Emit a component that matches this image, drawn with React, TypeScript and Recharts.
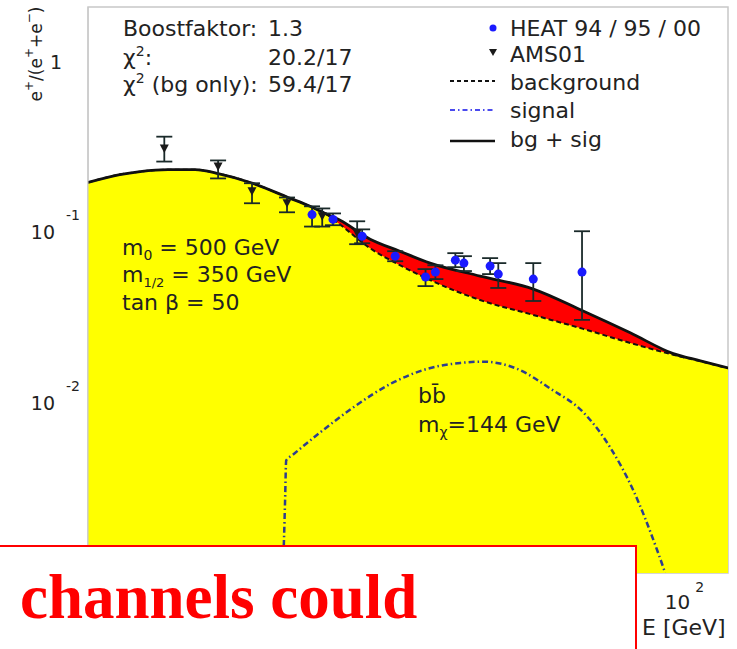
import React from 'react';
import { ComposedChart, Area, Line, Scatter, XAxis, YAxis, ErrorBar, ReferenceArea } from 'recharts';

// ---- curves (E in GeV, positron fraction) ----
const curveE = [1.0, 1.28, 1.5, 1.86, 2.3, 2.75, 3.53, 4.74, 5.62, 6.32, 7.1, 8.97, 11.3, 14.3, 21.1, 31.9, 47.0, 67.8, 94.7, 117, 145];
const bgPlusSig = [0.196, 0.218, 0.227, 0.233, 0.233, 0.221, 0.196, 0.16, 0.142, 0.129, 0.1175, 0.091, 0.0774, 0.0659, 0.0553, 0.0464, 0.0345, 0.0257, 0.0194, 0.0176, 0.016];
const background = [0.196, 0.218, 0.227, 0.233, 0.233, 0.221, 0.196, 0.16, 0.142, 0.129, 0.111, 0.0806, 0.0641, 0.0524, 0.04, 0.0327, 0.0271, 0.0224, 0.0191, 0.0175, 0.0159];

const signalE = [4.55, 4.59, 4.63, 4.67, 4.89, 6.08, 7.85, 10.7, 14.0, 18.1, 21.6, 28.1, 36.4, 47.5, 58.0, 69.4, 83.6, 89.0];
const signal = [0.001, 0.00156, 0.00267, 0.00458, 0.0049, 0.00668, 0.00935, 0.0131, 0.0158, 0.0171, 0.0174, 0.0158, 0.0121, 0.00863, 0.00546, 0.00306, 0.00136, 0.001];

// ---- measurements ----
const heatE = [5.71, 6.72, 8.43, 10.9, 13.8, 14.9, 17.4, 18.6, 22.8, 24.3, 31.9, 46.6];
const heatV = [0.127, 0.119, 0.0948, 0.0724, 0.0546, 0.0584, 0.0686, 0.0659, 0.0633, 0.0568, 0.0531, 0.0584];
const heatLo = [0.108, 0.11, 0.0862, 0.0676, 0.0483, 0.0531, 0.0624, 0.0592, 0.0568, 0.0471, 0.0395, 0.0306];
const heatHi = [0.142, 0.129, 0.104, 0.0774, 0.0608, 0.064, 0.0754, 0.0724, 0.0705, 0.0659, 0.0659, 0.1014];

const amsE = [1.81, 2.75, 3.58, 4.7, 6.18, 8.11];
const amsV = [0.31, 0.243, 0.174, 0.148, 0.124, 0.0986];
const amsLo = [0.26, 0.207, 0.148, 0.131, 0.108, 0.0851];
const amsHi = [0.364, 0.264, 0.194, 0.16, 0.138, 0.116];

// ---- axes ----
const xTicks = [1, 10, 100];
const xTickLabelsShown = [100]; // 1 and 10 are hidden behind the slide box in the reference
const yTicks = [0.01, 0.1, 1];
const yMinorTicks = [0.3, 0.4, 0.5, 0.6, 0.7, 0.8, 0.9, 2];
const xDomain = [1, 145];
const yDomain = [0.001, 2.1];

type Row = { E: number; total?: number; bg?: number; sig?: number };
const rowMap = new Map<number, Row>();
curveE.forEach((E, i) => {
  rowMap.set(E, { ...(rowMap.get(E) || { E }), total: bgPlusSig[i], bg: background[i] });
});
signalE.forEach((E, i) => {
  rowMap.set(E, { ...(rowMap.get(E) || { E }), sig: signal[i] });
});
const curveRows = Array.from(rowMap.values()).sort((a, b) => a.E - b.E);

const heatRows = heatE.map((E, i) => ({ E, v: heatV[i], err: [heatV[i] - heatLo[i], heatHi[i] - heatV[i]] }));
const amsRows = amsE.map((E, i) => ({ E, v: amsV[i], err: [amsV[i] - amsLo[i], amsHi[i] - amsV[i]] }));

const FONT = '"DejaVu Sans", sans-serif';
const TXT = '#222';

const YTick = (props: any) => {
  const { x, y, payload } = props;
  const v = payload.value;
  if (v === 1) {
    return (
      <text x={x - 18} y={y + 7} textAnchor="end" fontFamily={FONT} fontSize={19} fill={TXT}>1</text>
    );
  }
  const exp = Math.round(Math.log10(v));
  return (
    <g>
      <text x={x - 25} y={y + 7} textAnchor="end" fontFamily={FONT} fontSize={19} fill={TXT}>10</text>
      <text x={x - 14} y={y - 12} textAnchor="start" fontFamily={FONT} fontSize={14} fill={TXT}>{String(exp)}</text>
    </g>
  );
};

const XTick = (props: any) => {
  const { x, y, payload } = props;
  const v = payload.value;
  if (!xTickLabelsShown.includes(v)) return <g />;
  const exp = Math.round(Math.log10(v));
  return (
    <g>
      <text x={x + 10} y={y + 28} textAnchor="end" fontFamily={FONT} fontSize={20} fill={TXT}>10</text>
      <text x={x + 15} y={y + 11} textAnchor="start" fontFamily={FONT} fontSize={14} fill={TXT}>{String(exp)}</text>
    </g>
  );
};

const Circle = (props: any) => {
  const { cx, cy } = props;
  if (cx == null || cy == null) return null;
  return <circle cx={cx} cy={cy} r={4.5} fill="#1a1aff" />;
};

const Tri = (props: any) => {
  const { cx, cy } = props;
  if (cx == null || cy == null) return null;
  return <path d={`M${cx - 4.5},${cy - 4} L${cx + 4.5},${cy - 4} L${cx},${cy + 4.5} Z`} fill="#1a1a1a" />;
};

export default function App() {
  return (
    <div style={{ position: 'absolute', left: 0, top: 0, width: 737, height: 649, overflow: 'hidden', background: '#fff' }}>
      <ComposedChart width={737} height={649} data={curveRows} margin={{ top: 7, right: 9, bottom: 36, left: 28 }}>
        <XAxis
          dataKey="E"
          type="number"
          scale="log"
          domain={xDomain}
          allowDataOverflow
          ticks={xTicks}
          tick={<XTick />}
          tickLine={false}
          axisLine={false}
          tickSize={6}
          tickMargin={2}
          height={40}
        />
        <YAxis
          type="number"
          scale="log"
          domain={yDomain}
          allowDataOverflow
          ticks={yTicks}
          tick={<YTick />}
          tickLine={false}
          axisLine={{ stroke: '#c8c8c8' }}
          tickSize={6}
          tickMargin={2}
          width={60}
        />
        <YAxis
          yAxisId="minor"
          mirror
          type="number"
          scale="log"
          domain={yDomain}
          allowDataOverflow
          ticks={yMinorTicks}
          tick={false}
          tickLine={{ stroke: '#b0b0b0' }}
          tickSize={5}
          axisLine={false}
        />
        <YAxis
          yAxisId="major"
          mirror
          type="number"
          scale="log"
          domain={yDomain}
          allowDataOverflow
          ticks={[1]}
          tick={false}
          tickLine={{ stroke: '#a0a0a0' }}
          tickSize={10}
          axisLine={false}
        />
        <ReferenceArea x1={xDomain[0]} x2={xDomain[1]} y1={yDomain[0]} y2={yDomain[1]} fill="none" stroke="#c8c8c8" strokeWidth={1.5} />
        <Area dataKey="total" type="monotone" fill="#ff0000" fillOpacity={1} stroke="none" baseValue={0.001} connectNulls isAnimationActive={false} />
        <Area dataKey="bg" type="monotone" fill="#ffff00" fillOpacity={1} stroke="none" baseValue={0.001} connectNulls isAnimationActive={false} />
        <Line dataKey="sig" type="monotone" stroke="#2e3e8e" strokeWidth={2.5} strokeDasharray="6 3 1.5 3" dot={false} connectNulls isAnimationActive={false} />
        <Line dataKey="bg" type="monotone" stroke="#111" strokeWidth={2} strokeDasharray="5 3" dot={false} connectNulls isAnimationActive={false} />
        <Line dataKey="total" type="monotone" stroke="#111" strokeWidth={2.8} dot={false} connectNulls isAnimationActive={false} />
        <Scatter data={amsRows} dataKey="v" shape={<Tri />} isAnimationActive={false}>
          <ErrorBar dataKey="err" direction="y" width={8} stroke="#1a2a2a" strokeWidth={1.8} />
        </Scatter>
        <Scatter data={heatRows} dataKey="v" shape={<Circle />} isAnimationActive={false}>
          <ErrorBar dataKey="err" direction="y" width={8} stroke="#1a2a2a" strokeWidth={1.8} />
        </Scatter>
      </ComposedChart>

      <svg width={737} height={649} style={{ position: 'absolute', left: 0, top: 0, pointerEvents: 'none' }}>
        <g fontFamily={FONT} fontSize={22} fill={TXT}>
          {/* y axis title */}
          <text transform="translate(36,54) rotate(-90)" textAnchor="middle" dominantBaseline="central" fontSize={17}>
            e<tspan dy={-7} fontSize={12}>+</tspan>
            <tspan dy={7}>/(e</tspan>
            <tspan dy={-7} fontSize={12}>+</tspan>
            <tspan dy={7}>+e</tspan>
            <tspan dy={-7} fontSize={12}>−</tspan>
            <tspan dy={7}>)</tspan>
          </text>

          {/* fit statistics */}
          <text x={123} y={36}>Boostfaktor:</text>
          <text x={268} y={36}>1.3</text>
          <text x={123} y={65}>χ<tspan dy={-9} fontSize={14}>2</tspan><tspan dy={9}>:</tspan></text>
          <text x={268} y={65}>20.2/17</text>
          <text x={123} y={92}>χ<tspan dy={-9} fontSize={14}>2</tspan><tspan dy={9}> (bg only):</tspan></text>
          <text x={268} y={92}>59.4/17</text>

          {/* legend */}
          <circle cx={493} cy={28} r={3.5} fill="#1a1aff" />
          <text x={510} y={36}>HEAT 94 / 95 / 00</text>
          <path d="M489,49 L497,49 L493,56 Z" fill="#1a1a1a" />
          <text x={510} y={62}>AMS01</text>
          <line x1={450} y1={81} x2={495} y2={81} stroke="#111" strokeWidth={2} strokeDasharray="4 3" />
          <text x={510} y={90}>background</text>
          <line x1={450} y1={110} x2={495} y2={110} stroke="#4a4aee" strokeWidth={2} strokeDasharray="5 3 1.5 3" />
          <text x={510} y={118}>signal</text>
          <line x1={450} y1={141} x2={495} y2={141} stroke="#111" strokeWidth={2.5} />
          <text x={510} y={147}>bg + sig</text>

          {/* model parameters */}
          <text x={122} y={255}>m<tspan dy={5} fontSize={14}>0</tspan><tspan dy={-5}> = 500 GeV</tspan></text>
          <text x={122} y={282}>m<tspan dy={5} fontSize={13}>1/2</tspan><tspan dy={-5}> = 350 GeV</tspan></text>
          <text x={122} y={310}>tan β = 50</text>

          <text x={418} y={403}>bb&#x0304;</text>
          <text x={418} y={432}>m<tspan dy={5} fontSize={14}>χ</tspan><tspan dy={-5}>=144 GeV</tspan></text>

          {/* x axis title */}
          <text x={642} y={635} fontSize={22}>E [GeV]</text>
        </g>

        {/* slide overlay box */}
        <rect x={-4} y={546} width={640} height={120} fill="#fff" stroke="#ff0000" strokeWidth={2} />
        <text x={20} y={618} fontFamily='"Liberation Serif", "Times New Roman", serif' fontWeight="bold" fontSize={63} fill="#ff0000">channels could</text>
      </svg>
    </div>
  );
}
